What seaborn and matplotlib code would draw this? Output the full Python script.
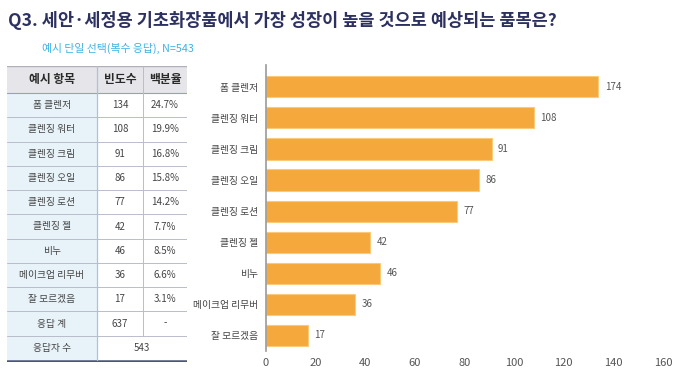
import matplotlib
matplotlib.use("Agg")
import matplotlib.pyplot as plt
import seaborn as sns
import pandas as pd

# data
items = ['폼 클렌저', '클렌징 워터', '클렌징 크림', '클렌징 오일', '클렌징 로션',
         '클렌징 젤', '비누', '메이크업 리무버', '잘 모르겠음']
counts = [134, 108, 91, 86, 77, 42, 46, 36, 17]
bar_labels = ['174', '108', '91', '86', '77', '42', '46', '36', '17']  # as printed
percents = ['24.7%', '19.9%', '16.8%', '15.8%', '14.2%', '7.7%', '8.5%', '6.6%', '3.1%']
table_header = ['예시 항목', '빈도수', '백분율']
total_label, total_count, total_pct = '응답 계', '637', '-'
resp_label, resp_count = '응답자 수', '543'
x_ticks = [0, 20, 40, 60, 80, 100, 120, 140, 160]

sns.set_theme(style='white')
plt.rcParams['font.family'] = ['Noto Sans CJK KR', 'DejaVu Sans']

fig = plt.figure(figsize=(6.8, 3.73), dpi=100)
W, H = 680, 373

fig.text(8 / W, 1 - 21 / H, 'Q3. 세안·세정용 기초화장품에서 가장 성장이 높을 것으로 예상되는 품목은?',
         fontsize=12.6, fontweight='bold', color='#2d3160', va='center', ha='left')
fig.text(42 / W, 1 - 48 / H, '예시 단일 선택(복수 응답), N=543',
         fontsize=7.8, color='#3db3e3', va='center', ha='left')

# ---- table ----
tx0, tx1 = 7, 187
ty_top, ty_bot = 66, 362
tab = fig.add_axes([tx0 / W, 1 - ty_bot / H, (tx1 - tx0) / W, (ty_bot - ty_top) / H])
tab.set_xlim(tx0, tx1)
tab.set_ylim(ty_bot, ty_top)
tab.axis('off')

cols = [7, 97, 143, 187]
head_bot = 93
n_rows = len(items) + 2
row_h = (ty_bot - 2 - head_bot) / n_rows

tab.fill_between([cols[0], cols[3]], ty_top, head_bot, color='#e5e5ea', lw=0)
tab.fill_between([cols[0], cols[1]], head_bot, ty_bot, color='#e8f3f9', lw=0)
for c in range(3):
    tab.text((cols[c] + cols[c + 1]) / 2, (ty_top + head_bot) / 2, table_header[c],
             ha='center', va='center', fontsize=8.5, fontweight='bold', color='#2a2a2a')

rows = [[it, str(n), p] for it, n, p in zip(items, counts, percents)]
rows.append([total_label, total_count, total_pct])
for r, row in enumerate(rows):
    yc = head_bot + (r + 0.5) * row_h
    for c in range(3):
        tab.text((cols[c] + cols[c + 1]) / 2, yc, row[c], ha='center', va='center',
                 fontsize=7, color='#444444')
yc = head_bot + (n_rows - 0.5) * row_h
tab.text((cols[0] + cols[1]) / 2, yc, resp_label, ha='center', va='center', fontsize=7, color='#444444')
tab.text((cols[1] + cols[3]) / 2, yc, resp_count, ha='center', va='center', fontsize=7, color='#444444')

for r in range(1, n_rows):
    y = head_bot + r * row_h
    tab.plot([cols[0], cols[3]], [y, y], color='#b9bccb', lw=0.7)
tab.plot([cols[0], cols[3]], [head_bot, head_bot], color='#9aa0b8', lw=0.8)
tab.plot([cols[0], cols[3]], [ty_top, ty_top], color='#b0b0b8', lw=1.0)
tab.plot([cols[0], cols[3]], [ty_bot - 1, ty_bot - 1], color='#4c5578', lw=1.8)
tab.plot([cols[1], cols[1]], [ty_top, ty_bot - 2], color='#a9c4da', lw=0.9)
tab.plot([cols[2], cols[2]], [ty_top, head_bot + (n_rows - 1) * row_h], color='#b9bccb', lw=0.7)

# ---- bar chart ----
ax = fig.add_axes([266 / W, 1 - 351 / H, (663 - 266) / W, (351 - 65) / H])
df = pd.DataFrame({'item': items, 'count': counts})
sns.barplot(data=df, x='count', y='item', color='#f5a93d', width=0.68,
            edgecolor='#fbc97a', linewidth=0.8, saturation=1, ax=ax)
ax.set_xlim(0, 160)
ax.set_ylim(8.5, -0.7)
ax.set_xticks(x_ticks)
ax.set_xlabel('')
ax.set_ylabel('')
for s in ['top', 'right', 'bottom']:
    ax.spines[s].set_visible(False)
ax.spines['left'].set_color('#999999')
ax.spines['left'].set_linewidth(1.2)
ax.tick_params(axis='y', length=0, labelsize=7, labelcolor='#444444', pad=6)
ax.tick_params(axis='x', length=0, labelsize=8, labelcolor='#555555', pad=5)
for i, (v, lab) in enumerate(zip(counts, bar_labels)):
    ax.text(v + 2.5, i, lab, va='center', ha='left', fontsize=7, color='#555555')

fig.savefig('out.png', dpi=100)
